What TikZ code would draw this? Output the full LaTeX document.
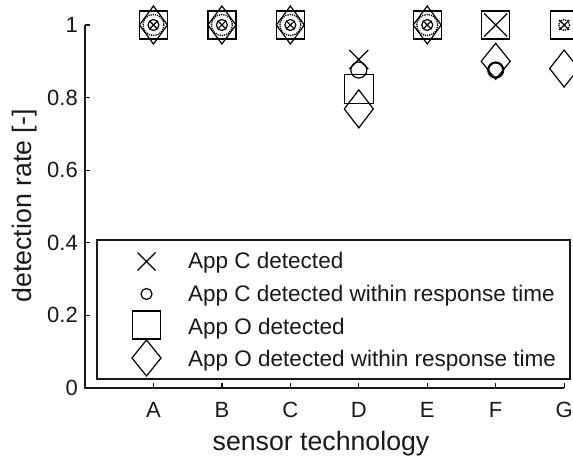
\documentclass[tikz,border=0pt]{standalone}
\usepackage{fontspec}
\setmainfont{Liberation Sans}
\usetikzlibrary{calc}

% marker helpers, all sizes in px (1pt = 1px)
\newcommand\mksq[3]{\draw[mk] ({#1-#3},{#2-#3}) rectangle ({#1+#3},{#2+#3});}
\newcommand\mkdia[4]{\draw[mk] ({#1},{#2-#4}) -- ({#1+#3},{#2}) -- ({#1},{#2+#4}) -- ({#1-#3},{#2}) -- cycle;}
\newcommand\mkcirc[3]{\draw[mk] (#1,#2) circle[radius=#3];}
\newcommand\mkcross[3]{\draw[mk] ({#1-#3},{#2-#3}) -- ({#1+#3},{#2+#3}) ({#1-#3},{#2+#3}) -- ({#1+#3},{#2-#3});}
% data -> px
\newcommand\px[1]{85+68.45*#1}
\newcommand\py[1]{388-363*#1}
% full marker group at detection rate 1
\newcommand\fullset[1]{%
  \mksq{\px{#1}}{\py{1}}{14}
  \mkdia{\px{#1}}{\py{1}}{14}{19}
  \draw[mk,densely dotted,line width=1.4pt] ({\px{#1}},{\py{1}}) circle[radius=10.5];
  \mkcirc{\px{#1}}{\py{1}}{5.5}
  \mkcross{\px{#1}}{\py{1}}{4}}

\begin{document}
\begin{tikzpicture}[x=1pt,y=-1pt,
  axis/.style={line width=1.3pt,black!90},
  mk/.style={line width=1.2pt,black},
  ticklbl/.style={font=\fontsize{22}{26}\selectfont,text=black!90,inner sep=0pt},
  axlbl/.style={font=\fontsize{26.7}{30}\selectfont,text=black!90,inner sep=0pt},
  legtxt/.style={font=\fontsize{22.5}{26}\selectfont,text=black!90,inner sep=0pt,anchor=base west}]
\useasboundingbox (0,0) rectangle (573,457);
\clip (0,0) rectangle (573,457);

% axes
\coordinate (origin) at (85,388);
\coordinate (ytop) at (85,25);
\coordinate (xend) at (564.15,388);
\draw[axis] (ytop) -- (origin) -- (xend);
\foreach \v/\t in {0/0,0.2/0.2,0.4/0.4,0.6/0.6,0.8/0.8,1/1}{
  \draw[axis] (85,{\py{\v}}) -- (90,{\py{\v}});
  \node[ticklbl,anchor=east] (yt\t) at (78,{\py{\v}}) {\t};
}
\foreach \k/\t in {1/A,2/B,3/C,4/D,5/E,6/F,7/G}{
  \draw[axis] ({\px{\k}},388) -- ({\px{\k}},383);
  \node[ticklbl,anchor=base] (xt\t) at ({\px{\k}},417) {\t};
}
\node[axlbl,anchor=base] (xlabel) at (321,450) {sensor technology};
\node[axlbl,anchor=base,rotate=90] (ylabel) at (31,206) {detection rate [-]};

% data markers
\fullset{1}
\fullset{2}
\fullset{3}
\fullset{5}
% D
\mkcross{\px{4}}{\py{0.905}}{9.5}
\mkcirc{\px{4}}{\py{0.876}}{8}
\mksq{\px{4}}{\py{0.824}}{14.5}
\mkdia{\px{4}}{\py{0.769}}{14.5}{19}
% F
\mksq{\px{6}}{\py{1}}{14}
\mkcross{\px{6}}{\py{1}}{11.5}
\mkdia{\px{6}}{\py{0.9}}{14.5}{18}
\draw[mk,line width=2.2pt] ({\px{6}},{\py{0.876}}) circle[radius=7.5];
% G
\mksq{\px{7}}{\py{1}}{14}
\draw[mk,densely dotted,line width=1.4pt] ({\px{7}},{\py{1}}) circle[radius=5.5];
\mkcross{\px{7}}{\py{1}}{5}
\mkdia{\px{7}}{\py{0.88}}{14.5}{18.5}

% legend
\draw[axis,fill=white] (97,240) rectangle (570,379);
\mkcross{146.5}{261.5}{9}
\mkcirc{146.5}{294}{5.5}
\mksq{146.5}{325}{14}
\mkdia{146.5}{358}{14.5}{18}
\node[legtxt] (l1) at (188,269) {App C detected};
\node[legtxt] (l2) at (188,301.5) {App C detected within response time};
\node[legtxt] (l3) at (188,334) {App O detected};
\node[legtxt] (l4) at (188,366.5) {App O detected within response time};
\end{tikzpicture}
\end{document}
